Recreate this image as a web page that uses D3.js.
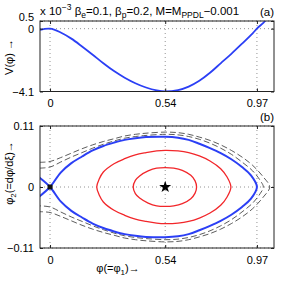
<!DOCTYPE html>
<html>
<head>
<meta charset="utf-8">
<script src="https://cdn.jsdelivr.net/npm/d3@7"></script>
<style>
  body { margin: 0; background: #fff; }
  svg { font-family: "Liberation Sans", Arial, sans-serif; }
  .tick text { font-size: 11px; fill: #000; }
  .grid { stroke: #777; stroke-width: 0.8; stroke-dasharray: 1,3; }
</style>
</head>
<body>
<svg id="chart" width="302" height="281"></svg>
<script>
// tick positions / labels
const phiTicks = [0, 0.54, 0.97];
const vTicks = [0.5, 0, -4.1];
const phi2Ticks = [0.11, 0, -0.11];

// (a) Sagdeev potential, V in units of 1e-3
const phiV = [-0.047, 0, 0.05, 0.1, 0.15, 0.2, 0.25, 0.3, 0.35, 0.4, 0.45, 0.5, 0.54,
              0.6, 0.65, 0.7, 0.75, 0.8, 0.85, 0.9, 0.95, 0.97, 1.0, 1.012];
const vVals = [-0.08, 0, -0.25, -0.65, -1.16, -1.70, -2.26, -2.77, -3.20, -3.56, -3.84, -4.03, -4.10,
               -4.01, -3.78, -3.40, -2.88, -2.26, -1.64, -0.98, -0.30, 0, 0.38, 0.56];

// (b) phase portrait, upper halves (lower halves are mirror images)
const sepPhi = [0, 0.05, 0.1, 0.15, 0.2, 0.25, 0.3, 0.35, 0.4, 0.45, 0.54, 0.6, 0.65, 0.7, 0.75, 0.8, 0.85, 0.9, 0.94, 0.97];
const sepUp  = [0, 0.026, 0.043, 0.055, 0.066, 0.074, 0.080, 0.085, 0.088, 0.090, 0.0907, 0.089, 0.085, 0.078, 0.070, 0.061, 0.050, 0.036, 0.022, 0];
const sepLeftPhi = -0.05, sepLeftVal = 0.017;

const redInPhi = [0.39, 0.40, 0.42, 0.46, 0.50, 0.54, 0.58, 0.62, 0.66, 0.68, 0.687];
const redInUp  = [0, 0.012, 0.020, 0.029, 0.034, 0.035, 0.034, 0.030, 0.021, 0.011, 0];

const redOutPhi = [0.219, 0.23, 0.25, 0.3, 0.35, 0.4, 0.45, 0.5, 0.54, 0.6, 0.65, 0.7, 0.75, 0.8, 0.83, 0.848];
const redOutUp  = [0, 0.014, 0.027, 0.042, 0.051, 0.058, 0.062, 0.065, 0.066, 0.065, 0.062, 0.056, 0.047, 0.033, 0.018, 0];

const dashAPhi = [-0.05, 0, 0.05, 0.1, 0.15, 0.2, 0.25, 0.3, 0.35, 0.4, 0.45, 0.54, 0.6, 0.65, 0.7, 0.75, 0.8, 0.85, 0.9, 0.95, 0.985, 1.0];
const dashAUp  = [0.034, 0.036, 0.045, 0.054, 0.062, 0.070, 0.077, 0.083, 0.088, 0.091, 0.093, 0.095, 0.094, 0.091, 0.086, 0.079, 0.070, 0.059, 0.045, 0.029, 0.012, 0];
const dashBPhi = [-0.05, 0, 0.05, 0.1, 0.15, 0.2, 0.25, 0.3, 0.35, 0.4, 0.45, 0.54, 0.6, 0.65, 0.7, 0.75, 0.8, 0.85, 0.9, 0.95, 1.0, 1.03];
const dashBUp  = [0.0445, 0.046, 0.053, 0.061, 0.069, 0.076, 0.082, 0.087, 0.092, 0.095, 0.097, 0.099, 0.098, 0.095, 0.090, 0.084, 0.076, 0.066, 0.054, 0.039, 0.018, 0];

const svg = d3.select("#chart");
const left = 40, right = 274;

var x = d3.scaleLinear().domain([-0.047, 1.05]).range([left, right]);
var yA = d3.scaleLinear().domain([-4.1, 0.5]).range([91.5, 21]);
var yB = d3.scaleLinear().domain([-0.11, 0.11]).range([248, 126]);

const blue = "#2b3ff5", red = "#f2262a";

function panel(id, y, yticks, fmt, top, bottom) {
  var g = svg.append("g").attr("id", id);
  g.append("clipPath").attr("id", "clip-" + id)
    .append("rect").attr("x", left).attr("y", top).attr("width", right - left).attr("height", bottom - top);
  // dotted grid
  g.selectAll(".gx").data(phiTicks).enter().append("line").attr("class", "grid")
    .attr("x1", (d) => x(d)).attr("x2", (d) => x(d)).attr("y1", top).attr("y2", bottom);
  g.selectAll(".gy").data(yticks).enter().append("line").attr("class", "grid")
    .attr("x1", left).attr("x2", right).attr("y1", (d) => y(d)).attr("y2", (d) => y(d));
  var plot = g.append("g").attr("clip-path", "url(#clip-" + id + ")");
  // axes with inner ticks on all sides
  g.append("g").attr("transform", "translate(0," + bottom + ")")
    .call(d3.axisBottom(x).tickValues(phiTicks).tickSizeInner(-3).tickSizeOuter(0).tickPadding(8).tickFormat(d3.format("")));
  g.append("g").attr("transform", "translate(0," + top + ")")
    .call(d3.axisTop(x).tickValues(phiTicks).tickSizeInner(-3).tickSizeOuter(0).tickFormat(""));
  g.append("g").attr("class", "yleft").attr("transform", "translate(" + left + ",0)")
    .call(d3.axisLeft(y).tickValues(yticks).tickSizeInner(-3).tickSizeOuter(0).tickPadding(6).tickFormat(fmt));
  g.append("g").attr("transform", "translate(" + right + ",0)")
    .call(d3.axisRight(y).tickValues(yticks).tickSizeInner(-3).tickSizeOuter(0).tickFormat(""));
  g.selectAll(".domain").remove();
  g.selectAll(".tick line").attr("stroke", "#222");
  g.append("rect").attr("x", left).attr("y", top).attr("width", right - left).attr("height", bottom - top)
    .attr("fill", "none").attr("stroke", "#222").attr("stroke-width", 1);
  return { plot: plot, g: g };
}

var fmtMinus = (d) => (d < 0 ? "\u2212" + Math.abs(d) : String(d));

// ---- panel (a)
var pa = panel("a", yA, vTicks, fmtMinus, 21, 91.5);
// top label sits a little higher, as in the original
pa.g.selectAll(".yleft .tick text").filter((d) => d === 0.5).attr("dy", "-0.05em");
var lineA = d3.line().x((d) => x(d[0])).y((d) => yA(d[1])).curve(d3.curveCatmullRom);
pa.plot.append("path").datum(d3.zip(phiV, vVals)).attr("d", lineA)
  .attr("fill", "none").attr("stroke", blue).attr("stroke-width", 1.8);

// ---- panel (b)
var pb = panel("b", yB, phi2Ticks, fmtMinus, 126, 248).plot;
var lineB = d3.line().x((d) => x(d[0])).y((d) => yB(d[1])).curve(d3.curveCatmullRom);
var loopB = d3.line().x((d) => x(d[0])).y((d) => yB(d[1])).curve(d3.curveCatmullRomClosed);

function closedPts(ph, up) {
  var upper = d3.zip(ph, up);
  var lower = d3.zip(ph, up.map((v) => -v)).slice(1, -1).reverse();
  return upper.concat(lower);
}
function openPts(ph, up) {
  var upper = d3.zip(ph, up);
  var lower = d3.zip(ph, up.map((v) => -v)).slice(0, -1).reverse();
  return upper.concat(lower);
}

[[dashAPhi, dashAUp], [dashBPhi, dashBUp]].forEach(function(c) {
  pb.append("path").datum(openPts(c[0], c[1])).attr("d", lineB)
    .attr("fill", "none").attr("stroke", "#333").attr("stroke-width", 0.8).attr("stroke-dasharray", "6,3");
});

[[redInPhi, redInUp], [redOutPhi, redOutUp]].forEach(function(c) {
  pb.append("path").datum(closedPts(c[0], c[1])).attr("d", loopB)
    .attr("fill", "none").attr("stroke", red).attr("stroke-width", 1.3);
});

var sepPts = [[sepLeftPhi, -sepLeftVal]].concat(openPts(sepPhi, sepUp), [[sepLeftPhi, sepLeftVal]]);
pb.append("path").datum(sepPts).attr("d", lineB)
  .attr("fill", "none").attr("stroke", blue).attr("stroke-width", 2);

svg.append("rect").attr("x", x(0) - 2.5).attr("y", yB(0) - 2.5).attr("width", 5).attr("height", 5)
  .attr("rx", 1).attr("fill", "#111");
svg.append("path").attr("d", d3.symbol(d3.symbolStar, 45)())
  .attr("transform", "translate(" + x(0.54) + "," + yB(0) + ")").attr("fill", "#000");

// ---- texts
var title = svg.append("text").attr("x", 40).attr("y", 15).attr("font-size", 11.5);
title.append("tspan").text("x 10");
title.append("tspan").attr("dy", -5).attr("font-size", 8.5).text("\u22123");
title.append("tspan").attr("dy", 5).text("  \u03b2");
title.append("tspan").attr("dy", 3).attr("font-size", 8.5).text("e");
title.append("tspan").attr("dy", -3).text("=0.1, \u03b2");
title.append("tspan").attr("dy", 3).attr("font-size", 8.5).text("p");
title.append("tspan").attr("dy", -3).text("=0.2, M=M");
title.append("tspan").attr("dy", 3).attr("font-size", 8.5).text("PPDL");
title.append("tspan").attr("dy", -3).text("\u22120.001");

svg.append("text").attr("x", 274).attr("y", 16).attr("text-anchor", "end").attr("font-size", 11.5).text("(a)");
svg.append("text").attr("x", 274).attr("y", 121).attr("text-anchor", "end").attr("font-size", 11.5).text("(b)");

svg.append("text").attr("transform", "translate(13,57) rotate(-90)").attr("text-anchor", "middle")
  .attr("font-size", 11).text("V(\u03c6) \u2192");

var yl = svg.append("text").attr("transform", "translate(13,173) rotate(-90)").attr("text-anchor", "middle")
  .attr("font-size", 11);
yl.append("tspan").text("\u03c6");
yl.append("tspan").attr("dy", 3).attr("font-size", 8).text("2");
yl.append("tspan").attr("dy", -3).text("(=d\u03c6/d\u03be)\u2192");

var xl = svg.append("text").attr("x", 118).attr("y", 272).attr("text-anchor", "middle").attr("font-size", 11);
xl.append("tspan").text("\u03c6(=\u03c6");
xl.append("tspan").attr("dy", 3).attr("font-size", 8).text("1");
xl.append("tspan").attr("dy", -3).text(")\u2192");
</script>
</body>
</html>
